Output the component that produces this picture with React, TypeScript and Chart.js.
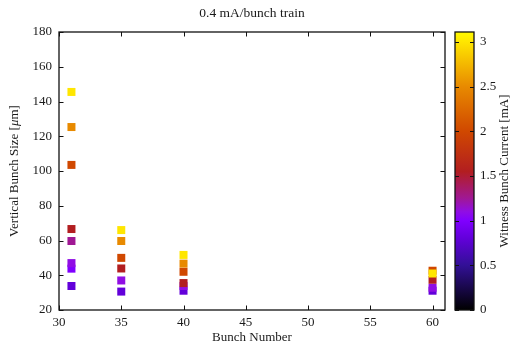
import React, { useEffect, useRef } from 'react';
import { Chart, registerables } from 'chart.js';

Chart.register(...registerables);

const TITLE = '0.4 mA/bunch train';
const X_TITLE = 'Bunch Number';
const Y_TITLE_A = 'Vertical Bunch Size [';
const Y_TITLE_MU = 'μ';
const Y_TITLE_B = 'm]';
const CB_TITLE = 'Witness Bunch Current [mA]';

const xTicks = [30, 35, 40, 45, 50, 55, 60];
const yTicks = [20, 40, 60, 80, 100, 120, 140, 160, 180];
const cbTicks = [0, 0.5, 1, 1.5, 2, 2.5, 3];
const cbTickLabels = ['0', '0.5', '1', '1.5', '2', '2.5', '3'];

const bunch31Size = [145.5, 125.3, 103.5, 66.6, 59.7, 47.0, 43.8, 33.8];
const bunch31Current = [3.0, 2.5, 2.0, 1.55, 1.25, 1.1, 1.0, 0.8];
const bunch35Size = [66.0, 59.7, 50.0, 43.9, 37.0, 30.6];
const bunch35Current = [3.0, 2.5, 2.0, 1.55, 1.1, 0.8];
const bunch40Size = [51.7, 46.7, 42.0, 35.5, 33.8, 31.1];
const bunch40Current = [3.0, 2.5, 2.0, 1.55, 1.1, 0.8];
const bunch60Size = [41.0, 42.6, 37.4, 32.8, 31.1];
const bunch60Current = [3.0, 2.0, 1.55, 1.1, 0.8];

const CB_MAX = 3.11;

// palette stops: current [mA] -> rgb
const paletteStops: [number, number[]][] = [
  [0, [0, 0, 0]],
  [0.5, [50, 16, 150]],
  [0.8, [98, 0, 218]],
  [1.0, [128, 0, 255]],
  [1.1, [144, 14, 228]],
  [1.25, [160, 24, 148]],
  [1.55, [178, 30, 32]],
  [2.0, [208, 72, 0]],
  [2.5, [232, 138, 0]],
  [3.0, [255, 230, 0]],
  [3.11, [255, 250, 0]],
];

function paletteColor(v: number): string {
  for (let i = 1; i < paletteStops.length; i++) {
    const [v1, c1] = paletteStops[i];
    const [v0, c0] = paletteStops[i - 1];
    if (v <= v1) {
      const t = (v - v0) / (v1 - v0);
      const c = c0.map((a, k) => Math.round(a + (c1[k] - a) * t));
      return `rgb(${c[0]},${c[1]},${c[2]})`;
    }
  }
  const c = paletteStops[paletteStops.length - 1][1];
  return `rgb(${c[0]},${c[1]},${c[2]})`;
}

const FONT_FAMILY = '"Liberation Serif", "Times New Roman", serif';
const FONT_SIZE = 13;
const TITLE_SIZE = 13.5;
const TEXT_COLOR = '#1a1a1a';

const framePlugin = {
  id: 'frame',
  afterDraw(chart: any) {
    const ctx = chart.ctx as CanvasRenderingContext2D;
    const { left, right, top, bottom } = chart.chartArea;
    const xs = chart.scales.x;
    const ys = chart.scales.y;
    const cb = chart.scales.cb;
    const tl = 4.5;
    ctx.save();
    ctx.strokeStyle = '#111';
    ctx.lineWidth = 1.3;
    ctx.strokeRect(left, top, right - left, bottom - top);
    ctx.lineWidth = 1;
    ctx.beginPath();
    xTicks.forEach((v) => {
      const px = Math.round(xs.getPixelForValue(v)) + 0.5;
      ctx.moveTo(px, bottom);
      ctx.lineTo(px, bottom - tl);
      ctx.moveTo(px, top);
      ctx.lineTo(px, top + tl);
    });
    yTicks.forEach((v) => {
      const py = Math.round(ys.getPixelForValue(v)) + 0.5;
      ctx.moveTo(left, py);
      ctx.lineTo(left + tl, py);
      ctx.moveTo(right, py);
      ctx.lineTo(right - tl, py);
    });
    ctx.stroke();

    // colorbar
    const bx0 = cb.left + 10;
    const bx1 = cb.left + 29;
    const by0 = cb.getPixelForValue(CB_MAX);
    const by1 = cb.getPixelForValue(0);
    const grad = ctx.createLinearGradient(0, by1, 0, by0);
    paletteStops.forEach(([v]) => {
      grad.addColorStop(Math.min(1, v / CB_MAX), paletteColor(v));
    });
    ctx.fillStyle = grad;
    ctx.fillRect(bx0, by0, bx1 - bx0, by1 - by0);
    ctx.lineWidth = 1.3;
    ctx.strokeStyle = '#111';
    ctx.strokeRect(bx0, by0, bx1 - bx0, by1 - by0);
    ctx.lineWidth = 1;
    ctx.beginPath();
    cbTicks.forEach((v) => {
      const py = Math.round(cb.getPixelForValue(v)) + 0.5;
      ctx.moveTo(bx0, py);
      ctx.lineTo(bx0 + 4, py);
      ctx.moveTo(bx1, py);
      ctx.lineTo(bx1 - 4, py);
    });
    ctx.stroke();

    // titles
    const normal = `${FONT_SIZE}px ${FONT_FAMILY}`;
    const italic = `italic ${FONT_SIZE}px ${FONT_FAMILY}`;
    ctx.fillStyle = TEXT_COLOR;
    ctx.textBaseline = 'middle';
    ctx.textAlign = 'center';
    const cx = (left + right) / 2;
    const cy = (top + bottom) / 2;
    ctx.font = `${TITLE_SIZE}px ${FONT_FAMILY}`;
    ctx.fillText(TITLE, cx, 13);
    ctx.font = normal;
    ctx.fillText(X_TITLE, cx, 338);

    // y title rotated with italic mu
    ctx.save();
    ctx.translate(15, cy);
    ctx.rotate(-Math.PI / 2);
    ctx.textAlign = 'left';
    ctx.font = normal;
    const wa = ctx.measureText(Y_TITLE_A).width;
    const wb = ctx.measureText(Y_TITLE_B).width;
    ctx.font = italic;
    const wm = ctx.measureText(Y_TITLE_MU).width;
    let x0 = -(wa + wm + wb) / 2;
    ctx.font = normal;
    ctx.fillText(Y_TITLE_A, x0, 0);
    x0 += wa;
    ctx.font = italic;
    ctx.fillText(Y_TITLE_MU, x0, 0);
    x0 += wm;
    ctx.font = normal;
    ctx.fillText(Y_TITLE_B, x0, 0);
    ctx.restore();

    ctx.save();
    ctx.translate(505, cy);
    ctx.rotate(-Math.PI / 2);
    ctx.textAlign = 'center';
    ctx.font = normal;
    ctx.fillText(CB_TITLE, 0, 0);
    ctx.restore();

    ctx.restore();
  },
};

function zeroPad(s: any) {
  s.paddingTop = 0;
  s.paddingBottom = 0;
  s.paddingLeft = 0;
  s.paddingRight = 0;
}

export default function App() {
  const ref = useRef<HTMLCanvasElement>(null);
  useEffect(() => {
    document.body.style.margin = '0';
    const canvas = ref.current;
    if (!canvas) return;
    const pts: { x: number; y: number; c: number }[] = [];
    bunch31Size.forEach((y, i) => pts.push({ x: 31, y, c: bunch31Current[i] }));
    bunch35Size.forEach((y, i) => pts.push({ x: 35, y, c: bunch35Current[i] }));
    bunch40Size.forEach((y, i) => pts.push({ x: 40, y, c: bunch40Current[i] }));
    bunch60Size.forEach((y, i) => pts.push({ x: 60, y, c: bunch60Current[i] }));
    pts.sort((a, b) => a.c - b.c);

    const font = { family: FONT_FAMILY, size: FONT_SIZE };
    const chart = new Chart(canvas, {
      type: 'scatter',
      data: {
        datasets: [
          {
            data: pts.map((p) => ({ x: p.x, y: p.y })),
            pointStyle: 'rect',
            pointRadius: 5.66,
            pointHoverRadius: 5.66,
            borderWidth: 0,
            pointBorderWidth: 0,
            backgroundColor: pts.map((p) => paletteColor(p.c)),
            pointBackgroundColor: pts.map((p) => paletteColor(p.c)),
          },
        ],
      },
      options: {
        responsive: false,
        animation: false,
        devicePixelRatio: 1,
        layout: { padding: { top: 32, left: 0, right: 0, bottom: 0 } },
        plugins: {
          legend: { display: false },
          tooltip: { enabled: false },
          title: { display: false },
        },
        scales: {
          x: {
            type: 'linear',
            min: 30,
            max: 61,
            afterBuildTicks: (s: any) => {
              s.ticks = xTicks.map((v) => ({ value: v }));
            },
            afterFit: (s: any) => {
              s.height = 38;
              zeroPad(s);
            },
            grid: { display: false, drawTicks: false },
            border: { display: false },
            ticks: { padding: 5, color: TEXT_COLOR, font, maxRotation: 0, autoSkip: false },
          },
          y: {
            type: 'linear',
            min: 20,
            max: 180,
            afterBuildTicks: (s: any) => {
              s.ticks = yTicks.map((v) => ({ value: v }));
            },
            afterFit: (s: any) => {
              s.width = 59;
              zeroPad(s);
            },
            grid: { display: false, drawTicks: false },
            border: { display: false },
            ticks: { padding: 7, color: TEXT_COLOR, font, autoSkip: false },
          },
          cb: {
            type: 'linear',
            position: 'right',
            min: 0,
            max: CB_MAX,
            afterBuildTicks: (s: any) => {
              s.ticks = cbTicks.map((v) => ({ value: v }));
            },
            afterFit: (s: any) => {
              s.width = 66;
              zeroPad(s);
            },
            grid: { display: false, drawTicks: false },
            border: { display: false },
            ticks: {
              padding: 35,
              color: TEXT_COLOR,
              font,
              autoSkip: false,
              callback: (_v: any, i: number) => cbTickLabels[i],
            },
          },
        } as any,
      },
      plugins: [framePlugin],
    });
    return () => chart.destroy();
  }, []);
  return (
    <div style={{ width: 511, height: 348 }}>
      <canvas ref={ref} width={511} height={348} style={{ display: 'block' }} />
    </div>
  );
}
